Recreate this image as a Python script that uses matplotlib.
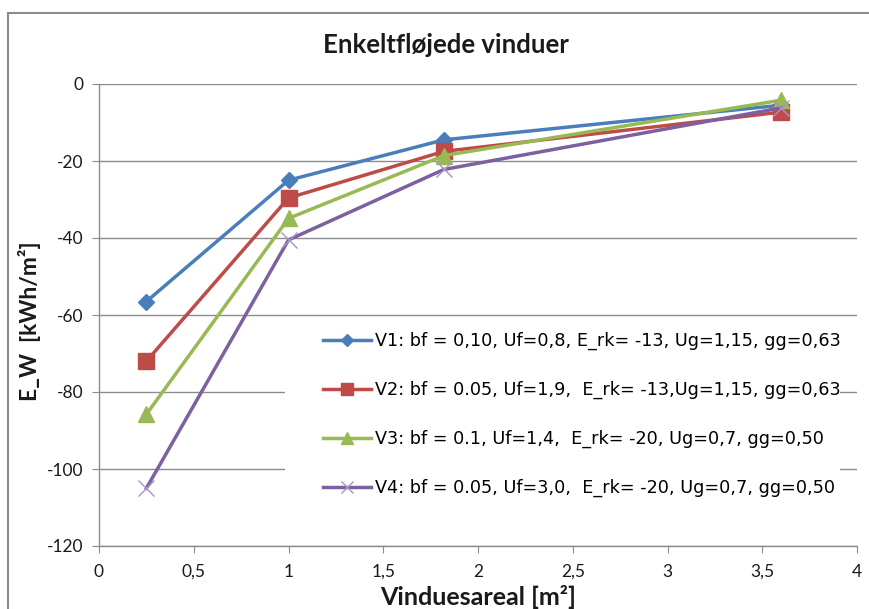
import matplotlib
matplotlib.use("Agg")
import matplotlib.pyplot as plt
from matplotlib.patches import Rectangle

# Data
areas = [0.25, 1.0, 1.82, 3.6]
v1 = [-56.5, -25.0, -14.5, -5.5]
v2 = [-72.0, -29.6, -17.5, -7.3]
v3 = [-85.8, -34.9, -18.6, -4.2]
v4 = [-105.0, -40.5, -22.2, -6.2]
labels = [
    "V1: bf = 0,10, Uf=0,8, E_rk= -13, Ug=1,15, gg=0,63",
    "V2: bf = 0.05, Uf=1,9,  E_rk= -13,Ug=1,15, gg=0,63",
    "V3: bf = 0.1, Uf=1,4,  E_rk= -20, Ug=0,7, gg=0,50",
    "V4: bf = 0.05, Uf=3,0,  E_rk= -20, Ug=0,7, gg=0,50",
]
xticks = [0, 0.5, 1, 1.5, 2, 2.5, 3, 3.5, 4]
xticklabels = ["0", "0,5", "1", "1,5", "2", "2,5", "3", "3,5", "4"]
yticks = [0, -20, -40, -60, -80, -100, -120]

W, H = 869, 609
fig = plt.figure(figsize=(W / 100, H / 100), dpi=100)
fig.patch.set_facecolor("white")

# outer chart border (left and top visible)
fig.add_artist(plt.Line2D([8 / W, 8 / W], [0, 1 - 13 / H], color="#8c8c8c", lw=1.5,
                          transform=fig.transFigure))
fig.add_artist(plt.Line2D([8 / W, 1], [1 - 13 / H, 1 - 13 / H], color="#8c8c8c", lw=1.5,
                          transform=fig.transFigure))

left, right, top, bottom = 99, 857, 84, 546
ax = fig.add_axes([left / W, 1 - bottom / H, (right - left) / W, (bottom - top) / H])

ax.set_xlim(0, 4)
ax.set_ylim(-120, 0)
ax.set_xticks(xticks)
ax.set_xticklabels(xticklabels)
ax.set_yticks(yticks)
ax.set_yticklabels([str(v) for v in yticks])
for s in ["top", "right"]:
    ax.spines[s].set_visible(False)
for s in ["left", "bottom"]:
    ax.spines[s].set_color("#8c8c8c")
    ax.spines[s].set_linewidth(1.0)
ax.tick_params(axis="both", direction="out", length=5, color="#8c8c8c",
               labelsize=12.5, labelcolor="#1a1a1a")
ax.tick_params(axis="x", pad=8)
ax.tick_params(axis="y", pad=6)
for t in ax.get_xticklabels() + ax.get_yticklabels():
    t.set_family("Lato")
ax.yaxis.grid(True, color="#8c8c8c", lw=1.0)
ax.set_axisbelow(True)

# white legend background area covering gridlines
ax.add_patch(Rectangle(((285 - left) / (right - left), 0.005), (840 - 285) / (right - left),
                       (546 - 318) / (bottom - top) - 0.005, transform=ax.transAxes,
                       facecolor="white", edgecolor="none", zorder=1))

ax.plot(areas, v1, color="#4A7EBB", lw=2.5, marker="D", ms=8, label=labels[0], zorder=3)
ax.plot(areas, v2, color="#BE4B48", lw=2.5, marker="s", ms=11, label=labels[1], zorder=3)
ax.plot(areas, v3, color="#98B954", lw=2.5, marker="^", ms=11, label=labels[2], zorder=3)
ax.plot(areas, v4, color="#7D60A0", lw=2.5, marker="x", ms=11, mew=1.0,
        mec="#a794c4", label=labels[3], zorder=3)

leg = ax.legend(loc="upper left", bbox_to_anchor=(323 / W, 1 - 332 / H),
                bbox_transform=fig.transFigure, frameon=False,
                prop={"family": "DejaVu Sans", "size": 12.7},
                handlelength=2.7, handletextpad=0.25, labelspacing=1.74,
                borderpad=0.0, borderaxespad=0.0, markerscale=0.8)
leg.set_zorder(5)

fig.text((322 + 570) / 2 / W, 1 - 45 / H, "Enkeltfløjede vinduer", ha="center", va="center",
         fontsize=18.5, fontweight="bold", family="Lato", color="#1a1a1a")
fig.text((99 + 857) / 2 / W, 1 - 597 / H, "Vinduesareal [m²]", ha="center", va="center",
         fontsize=18, fontweight="bold", family="Lato", color="#1a1a1a")
fig.text(30 / W, 1 - 321 / H, "E_W  [kWh/m²]", ha="center", va="center", rotation=90,
         fontsize=16.5, fontweight="bold", family="Lato", color="#1a1a1a")

fig.savefig("out.png", dpi=100)
